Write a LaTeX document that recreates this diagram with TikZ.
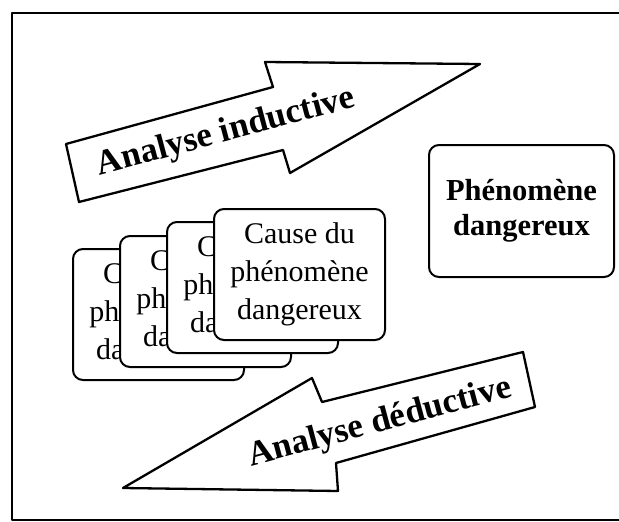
\documentclass[tikz,border=0pt]{standalone}
\usepackage{fontspec}
\setmainfont{Liberation Serif}
\begin{document}
\begin{tikzpicture}[x=1pt,y=-1pt,line join=round]
\tikzset{
  frameline/.style={draw=black,line width=2.4pt},
  bigarrow/.style={draw=black,line width=2.3pt,fill=white},
  arrowtext/.style={font=\fontsize{35}{40}\selectfont\bfseries,inner sep=0pt,rotate=15},
  card/.style={draw=black,line width=2pt,fill=white,rounded corners=10pt,
    minimum width=171pt,minimum height=131pt,inner sep=0pt,align=center,
    anchor=north west,font=\fontsize{30}{38}\selectfont},
  eventbox/.style={draw=black,line width=2pt,fill=white,rounded corners=10pt,
    minimum width=185pt,minimum height=132pt,inner sep=0pt,align=center,
    font=\fontsize{30.5}{35}\selectfont\bfseries},
}
\useasboundingbox (0,0) rectangle (619,522);

% outer frame (open on the right)
\draw[frameline] (619,13) -- (12,13) -- (12,520) -- (619,520);

% inductive analysis arrow, pointing up-right
\draw[bigarrow] (66,144) -- (273,87) -- (265,62) -- (480,64) -- (290,173)
  -- (283,150) -- (79,202) -- cycle;
\node[arrowtext] (ind) at (226,133) {Analyse inductive};

% deductive analysis arrow, pointing down-left
\draw[bigarrow] (523,352) -- (322,402) -- (312,378) -- (123,488) -- (338,491)
  -- (336,463) -- (535,407) -- cycle;
\node[arrowtext] (ded) at (380,423) {Analyse déductive};

% stack of cause cards, drawn back to front
\node[card] (c4) at (72,248)  {Cause du\\phénomène\\dangereux};
\node[card] (c3) at (119,235) {Cause du\\phénomène\\dangereux};
\node[card] (c2) at (166,221) {Cause du\\phénomène\\dangereux};
\node[card] (c1) at (213,208) {Cause du\\phénomène\\dangereux};

% dangerous phenomenon
\node[eventbox] (phen) at (521.5,211) {Phénomène\\dangereux};
\end{tikzpicture}
\end{document}
